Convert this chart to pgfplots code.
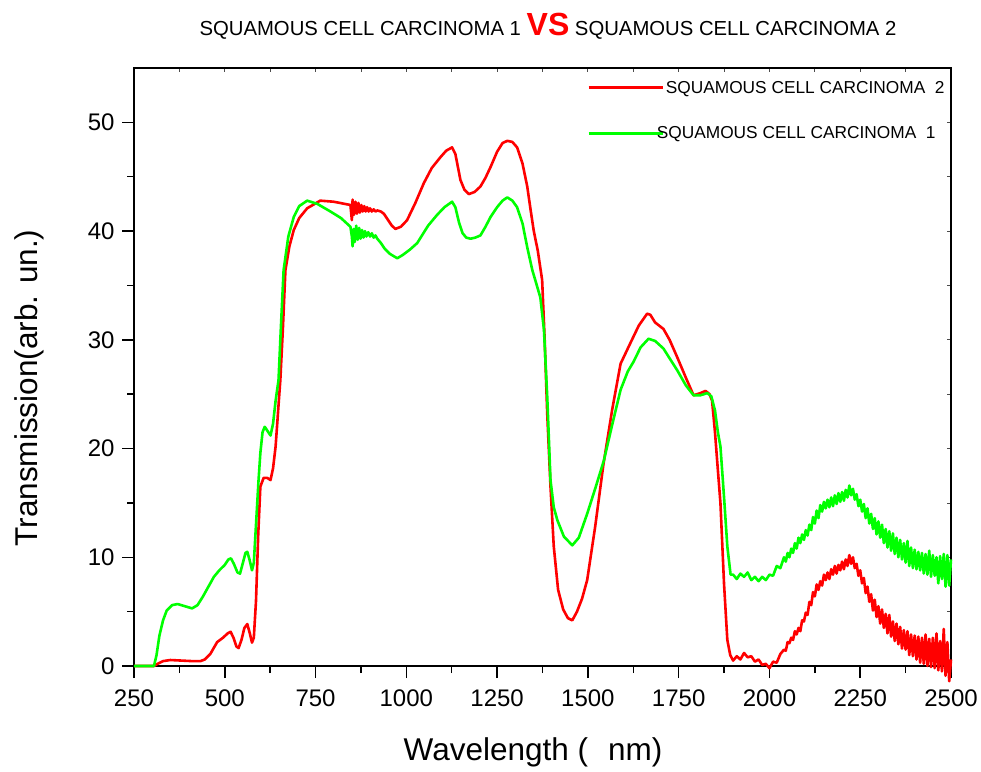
\documentclass[border=0pt]{standalone}
\usepackage{pgfplots}
\usepackage{pgfplotstable}
\pgfplotsset{compat=1.18}
\usepackage{fontspec}
\setmainfont{Liberation Sans}
\definecolor{sccred}{RGB}{255,0,0}
\definecolor{sccgreen}{RGB}{0,255,0}

\pgfplotstableread{
x y
250 0
305 0
315 0.2
330 0.45
350 0.55
380 0.5
410 0.45
433 0.45
445 0.6
460 1.1
479 2.2
495 2.6
508 3.0
516 3.15
524 2.6
532 1.8
538 1.65
546 2.4
554 3.5
562 3.86
569 3.0
575 2.15
580 2.6
586 6
592 12
598 16.5
607 17.3
617 17.3
626 17.1
633 18.2
640 20.2
647 23.5
653 26.3
660 31
667 36.4
678 38.6
690 40.1
705 41.2
727 42.1
763 42.8
800 42.7
846 42.4
850 41.0
852 42.9
856 41.5
860 42.7
864 41.6
868 42.6
872 41.7
876 42.4
880 41.8
884 42.3
888 41.8
892 42.2
896 41.8
900 42.1
905 41.8
910 42.0
915 41.8
920 41.9
930 41.8
938 41.6
950 41.0
960 40.5
970 40.2
985 40.4
1002 41.0
1025 42.6
1048 44.4
1070 45.8
1094 46.8
1110 47.4
1126 47.7
1135 47.1
1142 45.9
1149 44.7
1160 43.8
1172 43.4
1188 43.6
1204 44.1
1218 44.9
1232 45.9
1250 47.3
1265 48.1
1278 48.3
1292 48.2
1305 47.7
1320 46.2
1333 44.1
1342 42.0
1351 40.0
1362 38.2
1374 35.5
1381 30
1388 23.2
1397 16.5
1406 11.0
1418 7.0
1432 5.2
1445 4.4
1457 4.2
1470 5.0
1484 6.2
1498 7.9
1520 12.8
1543 18.6
1567 23.6
1590 27.8
1617 29.7
1640 31.3
1663 32.4
1672 32.3
1685 31.6
1708 31.0
1725 30.0
1746 28.4
1770 26.5
1791 24.9
1810 25.1
1824 25.3
1835 25.0
1842 24.4
1850 21.5
1858 18
1865 15.0
1875 7.5
1884 2.4
1892 1.0
1900 0.5
1910 0.9
1920 0.6
1930 1.2
1940 0.8
1950 0.9
1960 0.4
1970 0.6
1980 0.1
1990 0.2
2000 -0.2
2010 0.4
2020 0.3
2030 1.1
2040 1.5
2045 1.4
2050 2.2
2055 2.1
2060 2.6
2065 2.4
2070 3.2
2075 2.9
2080 3.5
2085 3.2
2090 4.2
2095 4.1
2100 4.9
2105 4.7
2110 5.9
2115 5.6
2120 6.8
2125 6.4
2130 7.5
2135 7.0
2140 7.8
2145 7.4
2150 8.4
2155 7.9
2160 8.6
2165 8.0
2170 8.9
2175 8.4
2180 9.2
2185 8.5
2190 9.3
2195 8.8
2200 9.6
2205 8.9
2210 9.8
2215 9.2
2220 10.2
2225 9.4
2230 10.0
2235 9.0
2240 9.4
2245 8.3
2250 8.8
2255 7.6
2260 8.1
2265 6.7
2270 7.3
2275 5.9
2280 6.6
2285 5.1
2290 6.1
2295 4.5
2300 5.5
2305 3.9
2310 5.2
2315 3.5
2320 4.8
2325 3.0
2330 4.7
2335 2.7
2340 4.1
2345 2.3
2350 3.9
2355 2.0
2360 3.6
2365 1.6
2370 3.3
2375 1.5
2380 3.2
2385 1.0
2390 2.9
2395 0.9
2400 2.8
2405 0.6
2410 2.7
2415 0.3
2420 2.6
2425 0.2
2430 2.9
2435 0.0
2440 2.5
2445 -0.1
2450 2.6
2455 -0.2
2460 3.0
2465 -0.4
2470 2.3
2475 -0.5
2480 3.4
2485 -0.9
2490 2.2
2495 -1.4
2500 0.6
}\redtab

\pgfplotstableread{
x y
250 0
305 0
312 1.0
320 2.8
330 4.2
340 5.1
355 5.6
370 5.7
390 5.5
410 5.3
425 5.6
440 6.4
455 7.3
470 8.2
485 8.8
500 9.3
510 9.8
517 9.9
525 9.4
535 8.6
542 8.5
550 9.5
557 10.4
562 10.5
568 9.8
575 8.8
580 9.5
586 13
593 17.1
598 19.6
604 21.5
610 22.0
618 21.6
626 21.2
633 22.3
640 24.4
648 26.3
655 31.5
662 36.4
675 39.5
690 41.3
705 42.3
727 42.8
755 42.5
791 41.8
820 41.2
846 40.4
850 39.5
852 38.6
855 40.2
858 39.0
862 40.5
866 39.2
870 40.3
874 39.3
878 40.1
882 39.4
886 40.0
890 39.5
895 39.9
900 39.5
905 39.8
910 39.4
915 39.6
920 39.3
930 38.9
940 38.4
955 37.9
975 37.5
990 37.8
1010 38.3
1030 38.9
1060 40.5
1085 41.5
1105 42.2
1126 42.7
1135 42.2
1145 40.8
1155 39.8
1165 39.4
1177 39.3
1190 39.4
1204 39.6
1218 40.4
1232 41.3
1250 42.2
1265 42.8
1278 43.1
1292 42.8
1305 42.2
1320 40.7
1333 38.5
1347 36.4
1355 35.5
1369 33.9
1379 30.9
1388 24.8
1397 17.1
1406 14.6
1416 13.4
1434 11.9
1457 11.1
1475 11.8
1498 14.0
1520 16.3
1544 18.9
1567 22.2
1590 25.4
1610 27.1
1626 28.0
1645 29.3
1667 30.1
1685 29.9
1708 29.2
1725 28.3
1746 27.2
1770 25.8
1791 24.9
1810 24.9
1829 25.1
1840 24.8
1850 23.5
1858 21.5
1865 20.2
1875 15.5
1884 11.0
1893 8.4
1900 8.4
1910 8.0
1920 8.5
1930 8.2
1940 8.6
1950 7.9
1960 8.2
1970 7.8
1980 8.2
1990 7.9
2000 8.4
2010 8.3
2020 9.2
2030 9.0
2040 10.0
2045 9.6
2050 10.4
2055 10.0
2060 10.8
2065 10.4
2070 11.3
2075 10.8
2080 11.8
2085 11.3
2090 12.1
2095 11.6
2100 12.5
2105 12.0
2110 13.0
2115 12.5
2120 13.7
2125 13.1
2130 14.3
2135 13.6
2140 14.8
2145 14.2
2150 15.1
2155 14.5
2160 15.3
2165 14.6
2170 15.5
2175 14.7
2180 15.7
2185 14.9
2190 15.9
2195 15.1
2200 16.0
2205 15.2
2210 16.2
2215 15.5
2220 16.6
2225 15.7
2230 16.3
2235 15.3
2240 15.8
2245 14.7
2250 15.3
2255 14.2
2260 14.9
2265 13.6
2270 14.5
2275 13.1
2280 14.0
2285 12.6
2290 13.6
2295 12.1
2300 13.3
2305 11.8
2310 13.0
2315 11.3
2320 12.6
2325 10.9
2330 12.4
2335 10.6
2340 12.2
2345 10.3
2350 11.8
2355 10.0
2360 11.6
2365 9.8
2370 11.3
2375 9.5
2380 11.5
2385 9.2
2390 10.9
2395 9.0
2400 10.7
2405 8.9
2410 10.5
2415 8.8
2420 10.4
2425 8.5
2430 10.3
2435 8.4
2440 10.6
2445 8.2
2450 10.2
2455 8.3
2460 10.0
2465 7.6
2470 10.1
2475 8.0
2480 10.3
2485 7.3
2490 10.2
2495 7.4
2500 9.8
}\greentab

\begin{document}
\begin{tikzpicture}
\path[use as bounding box] (0pt,0pt) rectangle (981pt,771pt);
% overlay axis: inward ticks on top and right
\begin{axis}[
  at={(134pt,105pt)}, anchor=south west,
  scale only axis, width=817pt, height=598pt,
  xmin=250, xmax=2500, ymin=0, ymax=55,
  axis x line*=top, axis y line*=right,
  xtick distance=250, ytick={0,10,...,50},
  minor x tick num=1, minor y tick num=1,
  tick align=inside,
  major tick length=4pt, minor tick length=4pt,
  xticklabels={}, yticklabels={},
  axis line style={line width=1.5pt, -},
  tick style={line width=0.8pt, black!70},
]
\end{axis}
\begin{axis}[
  at={(134pt,105pt)}, anchor=south west,
  scale only axis, width=817pt, height=598pt,
  xmin=250, xmax=2500, ymin=0, ymax=55,
  clip=false,
  xtick distance=250, ytick={0,10,...,50},
  minor x tick num=1, minor y tick num=1,
  xtick pos=bottom, ytick pos=left,
  tick align=outside,
  major tick length=12pt, minor tick length=7pt,
  axis line style={line width=1.5pt},
  tick style={line width=1.5pt, black},
  /pgf/number format/.cd, 1000 sep={}, assume math mode=true,
  /pgfplots/.cd,
  ticklabel style={font=\fontsize{24}{28}\selectfont},
  xticklabel style={yshift=-8pt},
  yticklabel style={xshift=-4pt},
  xlabel={Wavelength (\hspace{20pt}nm)},
  ylabel={Transmission(arb. un.)},
  xlabel style={font=\fontsize{31.5}{36}\selectfont, at={(rel axis cs:0.4884,-0.1438)}, anchor=center},
  ylabel style={font=\fontsize{31.5}{36}\selectfont, at={(rel axis cs:-0.1285,0.465)}, anchor=center},
  legend style={draw=none, fill=none, at={(rel axis cs:0.5545,0.982)}, anchor=north west,
    font=\fontsize{17.3}{20}\selectfont, row sep=28pt, inner sep=0pt},
  legend cell align=left,
  legend image code/.code={\draw[#1, line width=2.6pt] (0pt,0pt) -- (74pt,0pt);},
]
\addplot[sccred, line width=2.6pt, line join=round] table[x=x,y=y] {\redtab};
\addlegendentry{SQUAMOUS CELL CARCINOMA\ \ 2}
\addplot[sccgreen, line width=2.6pt, line join=round] table[x=x,y=y] {\greentab};
\addlegendentry{\hspace{-9pt}SQUAMOUS CELL CARCINOMA\ \ 1}
\end{axis}
\node[anchor=base, font=\fontsize{20.3}{24}\selectfont] at (548pt,735pt)
  {SQUAMOUS CELL CARCINOMA 1 {\color{sccred}\fontsize{32}{36}\selectfont\bfseries VS} SQUAMOUS CELL CARCINOMA 2};
\end{tikzpicture}
\end{document}
